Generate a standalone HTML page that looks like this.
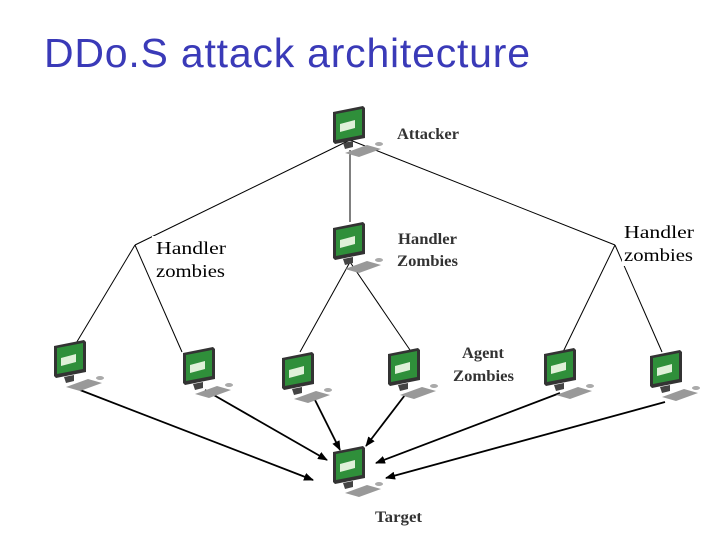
<!DOCTYPE html>
<html><head><style>
body{margin:0;width:720px;height:540px;background:#fff;overflow:hidden;position:relative}
</style></head><body>
<svg width="720" height="540" viewBox="0 0 720 540" xmlns="http://www.w3.org/2000/svg" style="position:absolute;left:0;top:0">
<defs>
<g id="pc">
  <polygon points="0,6 30,0 32,2 32,32 2,38 0,36" fill="#333"/>
  <polygon points="3,8 29,3 29,29 3,34" fill="#2f8f3a"/>
  <polygon points="7,18 22,14 22,22 7,26" fill="#dff0d8"/>
  <polygon points="10,37 20,35 20,41 12,43" fill="#444"/>
  <polygon points="12,47 34,39 48,43 26,51" fill="#999"/>
  <ellipse cx="46" cy="38" rx="4" ry="2" fill="#aaa"/>
</g>
<marker id="ar" markerWidth="10" markerHeight="8" refX="9" refY="4" orient="auto" markerUnits="userSpaceOnUse">
  <path d="M0,0 L10,4 L0,8 z" fill="#000"/>
</marker>
</defs>
<text x="44" y="67" font-family="Liberation Sans, sans-serif" font-size="41" fill="#3a3ab8" textLength="486">DDo.S attack architecture</text>
<g stroke="#000" stroke-width="1" fill="none">
  <line x1="350" y1="140" x2="135" y2="245"/>
  <line x1="350" y1="140" x2="615" y2="245"/>
  <line x1="350" y1="150" x2="350" y2="222"/>
  <line x1="135" y1="245" x2="75" y2="345"/>
  <line x1="135" y1="245" x2="182" y2="352"/>
  <line x1="615" y1="245" x2="563" y2="352"/>
  <line x1="615" y1="245" x2="662" y2="352"/>
  <line x1="350" y1="262" x2="300" y2="352"/>
  <line x1="350" y1="262" x2="410" y2="350"/>
</g>
<g stroke="#000" stroke-width="1.8" fill="none" marker-end="url(#ar)">
  <line x1="80" y1="390" x2="313" y2="480"/>
  <line x1="205" y1="390" x2="327" y2="460"/>
  <line x1="315" y1="400" x2="340" y2="450"/>
  <line x1="405" y1="395" x2="366" y2="446"/>
  <line x1="560" y1="393" x2="376" y2="463"/>
  <line x1="665" y1="402" x2="386" y2="478"/>
</g>
<use href="#pc" x="333" y="106"/>
<use href="#pc" x="333" y="222"/>
<use href="#pc" x="54" y="340"/>
<use href="#pc" x="183" y="347"/>
<use href="#pc" x="282" y="352"/>
<use href="#pc" x="388" y="348"/>
<use href="#pc" x="544" y="348"/>
<use href="#pc" x="650" y="350"/>
<use href="#pc" x="333" y="446"/>
<g font-family="Liberation Serif, serif" font-weight="bold" font-size="16" fill="#333">
  <text x="397" y="139" textLength="62" lengthAdjust="spacingAndGlyphs">Attacker</text>
  <text x="398" y="244" textLength="59" lengthAdjust="spacingAndGlyphs">Handler</text>
  <text x="397" y="266" textLength="61" lengthAdjust="spacingAndGlyphs">Zombies</text>
  <text x="462" y="358" textLength="42" lengthAdjust="spacingAndGlyphs">Agent</text>
  <text x="453" y="381" textLength="61" lengthAdjust="spacingAndGlyphs">Zombies</text>
  <text x="375" y="522" textLength="47" lengthAdjust="spacingAndGlyphs">Target</text>
</g>
<g font-family="Liberation Serif, serif" font-size="18" fill="#000">
  <rect x="152" y="236" width="80" height="46" fill="#fff"/>
  <text x="156" y="254" textLength="70" lengthAdjust="spacingAndGlyphs">Handler</text>
  <text x="156" y="277" textLength="69" lengthAdjust="spacingAndGlyphs">zombies</text>
  <rect x="622" y="222" width="76" height="44" fill="#fff"/>
  <text x="624" y="238" textLength="70" lengthAdjust="spacingAndGlyphs">Handler</text>
  <text x="624" y="261" textLength="69" lengthAdjust="spacingAndGlyphs">zombies</text>
</g>
</svg>
</body></html>
